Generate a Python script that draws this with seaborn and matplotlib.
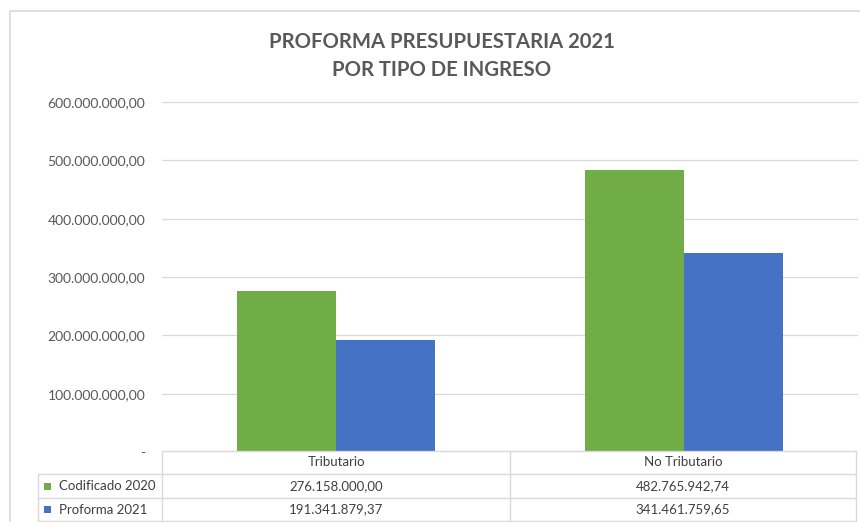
import matplotlib
matplotlib.use("Agg")
import matplotlib.pyplot as plt
from matplotlib.lines import Line2D
from matplotlib.patches import Rectangle
from matplotlib.ticker import FuncFormatter
import seaborn as sns
import pandas as pd

categories = ["Tributario", "No Tributario"]
series_names = ["Codificado 2020", "Proforma 2021"]
codificado_2020 = [276158000.00, 482765942.74]
proforma_2021 = [191341879.37, 341461759.65]
yticks = [0, 100000000, 200000000, 300000000, 400000000, 500000000, 600000000]
title_lines = ["PROFORMA PRESUPUESTARIA 2021", "POR TIPO DE INGRESO"]
colors = ["#70AD47", "#4472C4"]

df = pd.DataFrame({
    "cat": categories * 2,
    "serie": [series_names[0]] * 2 + [series_names[1]] * 2,
    "val": codificado_2020 + proforma_2021,
})

sns.set_theme(style="white")
plt.rcParams["font.family"] = ["Lato", "DejaVu Sans"]

W, H = 860, 522
fig = plt.figure(figsize=(W / 100, H / 100), dpi=100)

def fx(x):
    return x / W

def fy(y):
    return 1 - y / H

ax_left, ax_right, ax_top, ax_bot = 162, 858, 102, 452
ax = fig.add_axes([fx(ax_left), fy(ax_bot), fx(ax_right - ax_left), fy(ax_top) - fy(ax_bot)])
sns.barplot(data=df, x="cat", y="val", hue="serie", palette=colors, width=0.57,
            gap=0, ax=ax, legend=False, saturation=1, edgecolor="none")
ax.set_ylim(0, 600000000)
ax.set_xlim(-0.5, 1.5)
ax.set_yticks(yticks)

def fmt(v, pos=None):
    if v == 0:
        return "-"
    s = f"{v:,.2f}"
    return s.replace(",", "X").replace(".", ",").replace("X", ".")

ax.yaxis.set_major_formatter(FuncFormatter(fmt))
ax.tick_params(axis="y", length=0, pad=12, labelsize=10, labelcolor="#595959")
ax.set_xticks([])
ax.set_xlabel("")
ax.set_ylabel("")
for sp in ax.spines.values():
    sp.set_visible(False)
ax.grid(axis="y", color="#D9D9D9", linewidth=0.9)
ax.set_axisbelow(True)
ax.patch.set_alpha(0)

# title
fig.text(fx(442), fy(42), title_lines[0], ha="center", va="center", fontsize=14.6,
         fontweight="bold", color="#595959")
fig.text(fx(442), fy(70), title_lines[1], ha="center", va="center", fontsize=14.6,
         fontweight="bold", color="#595959")

# chart border
fig.add_artist(Rectangle((fx(10), fy(560)), fx(900), fy(11) - fy(560),
                         transform=fig.transFigure, fill=False, edgecolor="#D9D9D9", linewidth=1.2))

# data table
lc = "#D9D9D9"
lw = 1.0
def hline(y, x0, x1):
    fig.add_artist(Line2D([fx(x0), fx(x1)], [fy(y), fy(y)], transform=fig.transFigure, color=lc, lw=lw))
def vline(x, y0, y1):
    fig.add_artist(Line2D([fx(x), fx(x)], [fy(y0), fy(y1)], transform=fig.transFigure, color=lc, lw=lw))

rows_y = [451, 474, 498, 521]
hline(rows_y[0], 162, 856)
for y in rows_y[1:]:
    hline(y, 38, 856)
vline(162, 451, 521)
vline(510, 451, 521)
vline(856, 451, 521)
vline(38, 474, 521)

col_centers = [336, 683]
for c, name in zip(col_centers, categories):
    fig.text(fx(c), fy(462.5), name, ha="center", va="center", fontsize=9.5, color="#404040")

series_vals = [codificado_2020, proforma_2021]
row_centers = [486, 509.5]
for rc, name, vals, col in zip(row_centers, series_names, series_vals, colors):
    fig.add_artist(Rectangle((fx(44), fy(rc + 3.5)), fx(7), fy(rc - 3.5) - fy(rc + 3.5),
                             transform=fig.transFigure, facecolor=col, edgecolor="none"))
    fig.text(fx(59), fy(rc), name, ha="left", va="center", fontsize=9.5, color="#404040")
    for c, v in zip(col_centers, vals):
        fig.text(fx(c), fy(rc), fmt(v), ha="center", va="center", fontsize=9.5, color="#404040")

fig.savefig("out.png", dpi=100, facecolor="white")
